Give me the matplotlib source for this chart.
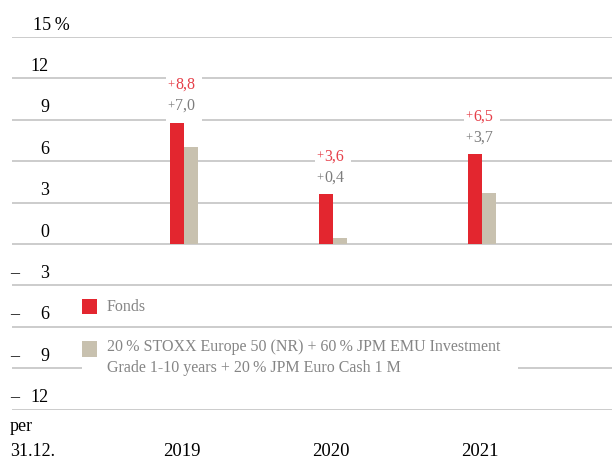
import numpy as np
import matplotlib.pyplot as plt
import matplotlib.transforms as mtransforms
from matplotlib.patches import Rectangle

years = ["2019", "2020", "2021"]
fonds = [8.8, 3.6, 6.5]
benchmark = [7.0, 0.4, 3.7]
fonds_labels = ["8,8", "3,6", "6,5"]
bench_labels = ["7,0", "0,4", "3,7"]
ticks = [15, 12, 9, 6, 3, 0, -3, -6, -9, -12]
legend_labels = ["Fonds",
                 "20\u2009% STOXX Europe 50 (NR) + 60\u2009% JPM EMU Investment\n"
                 "Grade 1-10 years + 20\u2009% JPM Euro Cash 1 M"]

RED = "#E3262F"
BEIGE = "#C8C1AF"
GRID = "#BEBEBE"
TXT_GREY = "#858585"
plt.rcParams['font.family'] = ['Liberation Serif', 'DejaVu Serif']

W, H = 612, 459
fig = plt.figure(figsize=(W / 100, H / 100), dpi=100)
ax = fig.add_axes([12 / W, 1 - 409.6 / H, 600 / W, (409.6 - 37) / H])
ax.set_xlim((12 - 184) / 149, (612 - 184) / 149)
ax.set_ylim(-12, 15)
ax.axis('off')

px_y = 27 / (409.6 - 37)   # data units per pixel (y)
px_x = 1 / 149             # data units per pixel (x)
pt = 0.72                  # points per pixel

for t in ticks:
    ax.axhline(t, color=GRID, lw=1.1, zorder=0)

x = np.arange(len(years))
bw = 14 * px_x
ax.bar(x - bw / 2, fonds, bw, color=RED, zorder=2)
ax.bar(x + bw / 2, benchmark, bw, color=BEIGE, zorder=2)

# value labels with white box behind them
for i in range(len(years)):
    top = max(fonds[i], benchmark[i])
    ax.add_patch(Rectangle((x[i] - 18 * px_x, top + 2 * px_y), 36 * px_x, 47 * px_y,
                           facecolor='white', edgecolor='none', zorder=1))
    for lab, dy, col in [(fonds_labels[i], 38, "#E6404A"), (bench_labels[i], 16.5, "#7D7D7D")]:
        ax.annotate(lab, (x[i], top + dy * px_y), xytext=(-8.5 * pt, 0), textcoords='offset points',
                    color=col, fontsize=11.5, ha='left', va='center', zorder=3)
        ax.annotate("+", (x[i], top + dy * px_y), xytext=(-9.5 * pt, -0.5), textcoords='offset points',
                    color=col, fontsize=9, ha='right', va='center', zorder=3)

# y tick labels
tr = mtransforms.blended_transform_factory(fig.transFigure, ax.transData)
for t in ticks:
    yb = t + 7.5 * px_y
    if t == 15:
        fig.text(33 / W, yb, "15\u2009%", transform=tr, fontsize=13, va='baseline', ha='left')
    elif t >= 0:
        fig.text(49 / W, yb, str(t), transform=tr, fontsize=13, va='baseline', ha='right')
    else:
        fig.text(10 / W, yb, "–", transform=tr, fontsize=13, va='baseline', ha='left')
        fig.text(49 / W, yb, str(-t), transform=tr, fontsize=13, va='baseline', ha='right')

# x labels
fig.text(10 / W, 1 - 431 / H, "per", fontsize=13, va='baseline', ha='left')
fig.text(10 / W, 1 - 456 / H, "31.12.", fontsize=13, va='baseline', ha='left')
trx = mtransforms.blended_transform_factory(ax.transData, fig.transFigure)
for i, y in enumerate(years):
    fig.text(x[i] - 2 * px_x, 1 - 456 / H, y, transform=trx, fontsize=13.5, va='baseline', ha='center')

# legend
fig.patches.append(Rectangle((82 / W, 1 - 380 / H), 436 / W, 38 / H, transform=fig.transFigure,
                             facecolor='white', edgecolor='none', zorder=1))
fig.patches.append(Rectangle((82 / W, 1 - 314 / H), 15 / W, 15 / H, transform=fig.transFigure,
                             facecolor=RED, edgecolor='none', zorder=2))
fig.patches.append(Rectangle((82 / W, 1 - 357 / H), 15 / W, 16 / H, transform=fig.transFigure,
                             facecolor=BEIGE, edgecolor='none', zorder=2))
fig.text(107 / W, 1 - 307 / H, legend_labels[0], color=TXT_GREY, fontsize=11.5,
         va='center', ha='left', zorder=3)
fig.text(107 / W, 1 - 339 / H, legend_labels[1], color=TXT_GREY, fontsize=11.5,
         va='top', ha='left', linespacing=1.45, zorder=3)

fig.savefig("out.png", dpi=100)
